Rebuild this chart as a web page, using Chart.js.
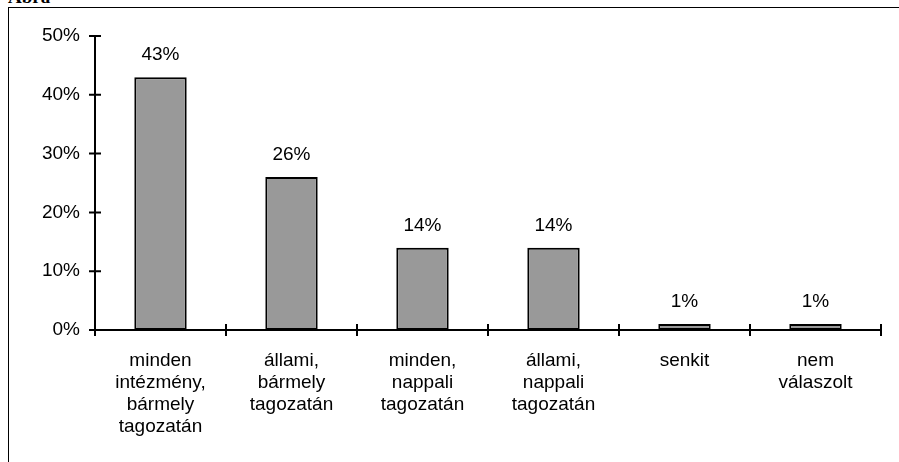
<!DOCTYPE html>
<html>
<head>
<meta charset="utf-8">
<script src="https://cdn.jsdelivr.net/npm/chart.js@4/dist/chart.umd.min.js"></script>
<style>
html,body{margin:0;padding:0;background:#fff;overflow:hidden}
#wrap{position:relative;width:899px;height:462px}
#frame{position:absolute;left:8px;top:7px;right:-2px;bottom:-2px;border-left:1px solid #000;border-top:1px solid #000}
#cap{position:absolute;left:8px;top:-14px;font:bold 19px "Liberation Serif",serif;color:#000}
canvas{position:absolute;left:0;top:0}
</style>
</head>
<body>
<div id="wrap">
  <div id="cap">Ábra</div>
  <div id="frame"></div>
  <canvas id="c" width="899" height="462"></canvas>
</div>
<script>
/* data */
const categories=[
  ['minden','intézmény,','bármely','tagozatán'],
  ['állami,','bármely','tagozatán'],
  ['minden,','nappali','tagozatán'],
  ['állami,','nappali','tagozatán'],
  ['senkit'],
  ['nem','válaszolt']
];
const shares=[43,26,14,14,1,1];
const yTicks=[0,10,20,30,40,50];

const FONT={family:'"Liberation Sans", Arial, sans-serif',size:19};

// ticks that cross both axes + value labels
const crossTicks={
  id:'crossTicks',
  afterDraw(chart){
    const {ctx,chartArea:a,scales:{x,y}}=chart;
    ctx.save();ctx.strokeStyle='#000';ctx.lineWidth=2;
    ctx.beginPath();
    yTicks.forEach(v=>{const p=y.getPixelForValue(v);ctx.moveTo(a.left-6,p);ctx.lineTo(a.left+6,p);});
    const n=categories.length, bounds=[a.left];
    for(let i=0;i<n-1;i++) bounds.push((x.getPixelForValue(i)+x.getPixelForValue(i+1))/2);
    bounds.push(a.right);
    bounds.forEach(p=>{ctx.moveTo(p,a.bottom-6);ctx.lineTo(p,a.bottom+6);});
    ctx.stroke();
    ctx.fillStyle='#000';ctx.font=FONT.size+'px '+FONT.family;
    ctx.textAlign='center';ctx.textBaseline='middle';
    chart.getDatasetMeta(0).data.forEach((bar,i)=>ctx.fillText(shares[i]+'%',bar.x,bar.y-22));
    ctx.restore();
  }
};

new Chart(document.getElementById('c'),{
  type:'bar',
  data:{labels:categories,datasets:[{data:shares,backgroundColor:'#999999',borderColor:'#000',borderWidth:2,borderSkipped:false,categoryPercentage:1,barPercentage:0.4}]},
  options:{
    responsive:false,animation:false,
    layout:{padding:{top:36,right:18,left:0,bottom:0}},
    plugins:{legend:{display:false},tooltip:{enabled:false}},
    scales:{
      y:{min:0,max:50,
        afterFit(s){s.width=95;},
        afterBuildTicks(s){s.ticks=yTicks.map(v=>({value:v}));},
        grid:{display:false,drawTicks:false},
        border:{display:true,color:'#000',width:2},
        ticks:{padding:15,color:'#000',font:FONT,callback:v=>v+'%'}
      },
      x:{
        afterFit(s){s.height=132;},
        grid:{display:false,drawTicks:false},
        border:{display:true,color:'#000',width:2},
        ticks:{padding:20,color:'#000',font:{...FONT,lineHeight:22/19},maxRotation:0,autoSkip:false}
      }
    }
  },
  plugins:[crossTicks]
});
</script>
</body>
</html>
